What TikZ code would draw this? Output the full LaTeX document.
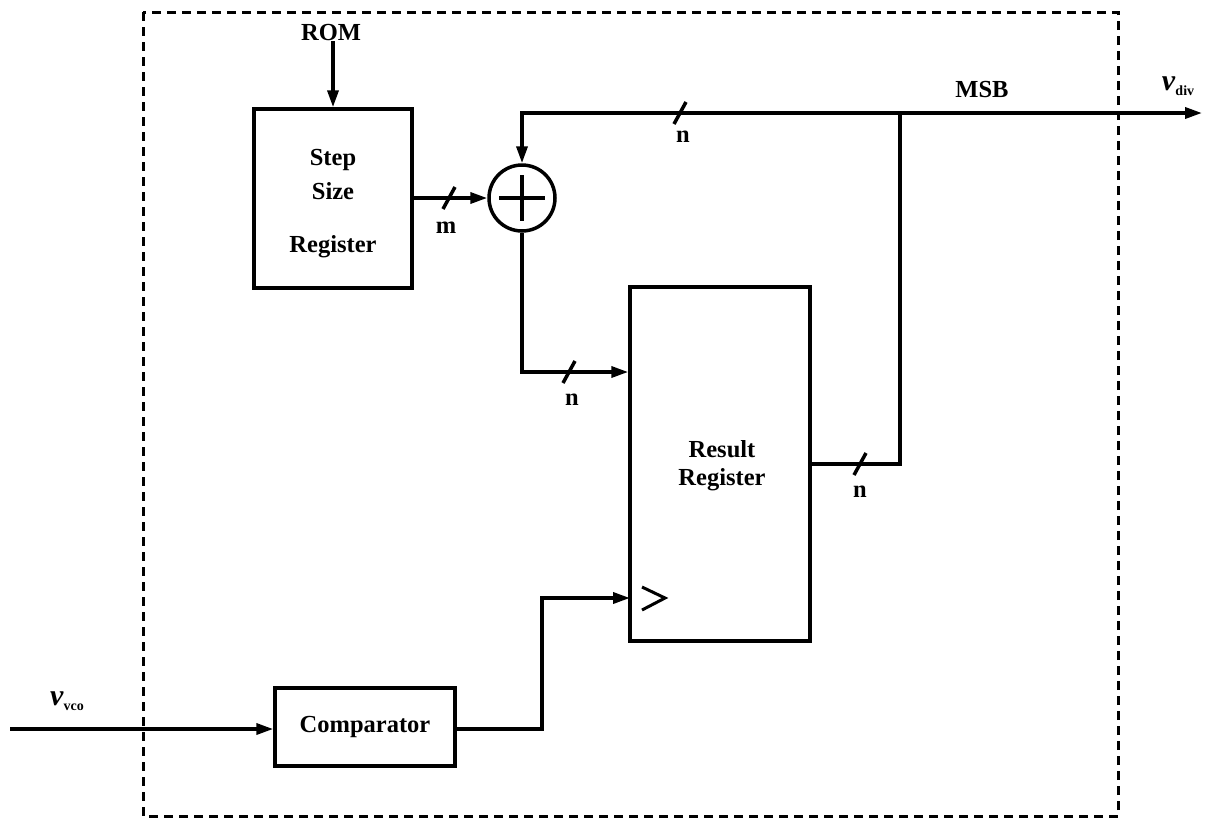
\documentclass[tikz,border=0pt]{standalone}
\usepackage{fontspec}
\setmainfont{Liberation Serif}
\usetikzlibrary{arrows.meta}
\tikzset{
  wire/.style={line width=3.5pt},
  arr/.style={wire,-{Triangle[length=17pt,width=11pt]}},
  blk/.style={draw,line width=3.5pt,rectangle,inner sep=0pt,align=center,font=\fontsize{24.5}{30}\selectfont\bfseries},
  lbl/.style={inner sep=0pt,font=\fontsize{24.5}{26}\selectfont\bfseries},
  slash/.style={line width=3.5pt},
  bnd/.style={line width=3pt,dash pattern=on 9pt off 6pt}
}
\newcommand{\vsig}[1]{{\fontsize{30}{30}\selectfont\textbf{\textit{v}}}\raisebox{-0.4ex}{\fontsize{14}{14}\selectfont\bfseries #1}}
\begin{document}
\begin{tikzpicture}[x=1pt,y=-1pt]
\useasboundingbox (0,0) rectangle (1206,820);
\draw[bnd] (143,12) rectangle (1118,816);
% blocks
\node[lbl] (rom) at (331,33) {ROM};
\node[blk,minimum width=158pt,minimum height=179pt] (step) at (333,198.5) {};
\node[lbl] (stepA) at (333,160) {Step};
\node[lbl] (stepB) at (333,191) {Size};
\node[lbl] (stepC) at (333,247) {Register};
\node[draw,circle,line width=3.5pt,minimum size=66pt,inner sep=0pt] (adder) at (522,198) {};
\draw[line width=4pt] (adder.center) ++(-23,0) -- ++(46,0);
\draw[line width=4pt] (adder.center) ++(0,-23) -- ++(0,46);
\node[blk,minimum width=180pt,minimum height=354pt] (res) at (720,464) {};
\node[lbl] (resA) at (722,449) {Result};
\node[lbl] (resB) at (722,480) {Register};
\node[blk,minimum width=180pt,minimum height=78pt] (comp) at (365,727) {Comparator};
% clock symbol
\draw[line width=3pt,line join=miter] (642,587) -- (665,598) -- (642,610);
% coordinates
\coordinate (fb) at (900,113);
\coordinate (rout) at (900,464);
\coordinate (vout) at (1202,113);
\coordinate (a1) at (522,372);
\coordinate (c2) at (542,598);
\coordinate (clk) at (630,598);
\coordinate (vin) at (10,729);
% connectors
\draw[arr] (rom.south -| step.north) -- (step.north);
\draw[arr] (step.east |- adder.west) -- (adder.west);
\draw[arr] (fb) -| (adder.north);
\draw[arr] (fb) -- (vout);
\draw[wire] (res.east) -- (rout) -- (fb);
\draw[arr] (adder.south) |- (res.west |- a1);
\draw[arr] (comp.east |- vin) -| (c2) -- (clk);
\draw[arr] (vin) -- (comp.west |- vin);
% bus slashes
\draw[slash] (443,209) -- (455,187);
\draw[slash] (674,124) -- (686,102);
\draw[slash] (563,383) -- (575,361);
\draw[slash] (854,475) -- (866,453);
% labels
\node[lbl] (lm) at (446,228) {m};
\node[lbl] (ln1) at (683,137) {n};
\node[lbl] (ln2) at (572,400) {n};
\node[lbl] (ln3) at (860,492) {n};
\node[lbl] (msb) at (982,90) {MSB};
\node[lbl] (vdiv) at (1178,86) {\vsig{div}};
\node[lbl] (vvco) at (67,701) {\vsig{vco}};
\end{tikzpicture}
\end{document}
